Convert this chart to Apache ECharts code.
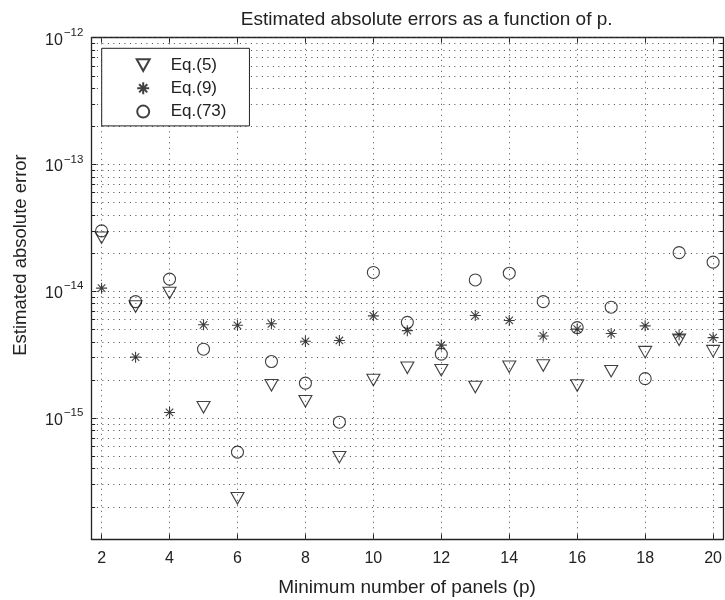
<!DOCTYPE html>
<html>
<head>
<meta charset="utf-8">
<script src="https://cdn.jsdelivr.net/npm/echarts@6/dist/echarts.min.js"></script>
<style>
html,body{margin:0;padding:0;background:#fff;}
#chart{width:725px;height:600px;}
</style>
</head>
<body>
<div id="chart"></div>
<script>
// ---- data ----
var panels = [2,3,4,5,6,7,8,9,10,11,12,13,14,15,16,17,18,19,20];
var eq5  = [2.65e-14,7.6e-15,9.7e-15,1.22e-15,2.34e-16,1.82e-15,1.36e-15,4.93e-16,2.0e-15,2.5e-15,2.39e-15,1.76e-15,2.55e-15,2.6e-15,1.81e-15,2.35e-15,3.32e-15,4.15e-15,3.38e-15];
var eq9  = [1.06e-14,3.03e-15,1.11e-15,5.45e-15,5.4e-15,5.55e-15,4.04e-15,4.1e-15,6.41e-15,4.9e-15,3.77e-15,6.45e-15,5.9e-15,4.45e-15,5.04e-15,4.65e-15,5.35e-15,4.54e-15,4.32e-15];
var eq73 = [3.0e-14,8.3e-15,1.25e-14,3.5e-15,5.4e-16,2.8e-15,1.89e-15,9.3e-16,1.41e-14,5.7e-15,3.2e-15,1.23e-14,1.39e-14,8.3e-15,5.18e-15,7.5e-15,2.05e-15,2.02e-14,1.70e-14];
var seriesNames = ['Eq.(5)','Eq.(9)','Eq.(73)'];
var xTickValues = [2,4,6,8,10,12,14,16,18,20];
var yDecades = [-16,-15,-14,-13,-12];
var yMin = 1.11e-16, yMax = 1e-12;
var xMin = 1.7, xMax = 20.3;

// grid line values (decades and 2..9 multiples)
var yGridValues = [];
yDecades.forEach(function(e){
  for (var k = 1; k <= 9; k++) {
    var v = k * Math.pow(10, e);
    if (v >= yMin * 1.0001 && v <= yMax * 1.0001) yGridValues.push(v);
  }
});

var FONT = '"Liberation Sans", Arial, Helvetica, sans-serif';
var TXT = '#222';
var gridStyle = {color: '#4a4a4a', width: 1, type: [1, 4.5]};
var tickStyle = {color: '#222', width: 1, type: 'solid'};

function pairs(ys){ return panels.map(function(p,i){ return [p, ys[i]]; }); }

var markData = [];
yGridValues.forEach(function(v){
  markData.push([{coord: [xMin, v]}, {coord: [xMax, v]}]);
});
xTickValues.forEach(function(v){ markData.push({xAxis: v}); });

// short minor ticks on left/right axes (non-decade values)
var tickData = [];
var tickLen = 0.11;
yGridValues.forEach(function(v){
  var l = Math.log10(v);
  if (Math.abs(l - Math.round(l)) < 1e-6) return;
  tickData.push([{coord: [xMin, v]}, {coord: [xMin + tickLen, v]}]);
  tickData.push([{coord: [xMax - tickLen, v]}, {coord: [xMax, v]}]);
});

var chart = echarts.init(document.getElementById('chart'), null, {renderer: 'canvas'});
var markerStyle = {color: 'rgba(0,0,0,0)', borderColor: '#111', borderWidth: 1.1};

chart.setOption({
  animation: false,
  backgroundColor: '#fff',
  textStyle: {fontFamily: FONT},
  grid: {left: 91.4, top: 37.7, width: 636.5, height: 501.6, containLabel: false},
  graphic: [
    {type: 'text', x: 426.7, y: 19.5, style: {text: 'Estimated absolute errors as a function of p.', fontSize: 19, fontFamily: FONT, fill: TXT, align: 'center', verticalAlign: 'middle'}},
    {type: 'text', x: 407, y: 588, style: {text: 'Minimum number of panels (p)', fontSize: 19, fontFamily: FONT, fill: TXT, align: 'center', verticalAlign: 'middle'}},
    {type: 'text', x: 21, y: 255, rotation: Math.PI/2, style: {text: 'Estimated absolute error', fontSize: 18.5, fontFamily: FONT, fill: TXT, align: 'center', verticalAlign: 'middle'}}
  ],
  legend: {
    orient: 'vertical',
    left: 101.7, top: 48.3,
    padding: [7.7, 23, 5.3, 34],
    itemWidth: 13, itemHeight: 12, itemGap: 5.3,
    backgroundColor: '#fff', borderColor: '#222', borderWidth: 1,
    textStyle: {fontSize: 17, fontFamily: FONT, color: TXT, lineHeight: 18, padding: [0,0,0,16]},
    data: [
      {name: seriesNames[0], icon: 'path://M0,0L10,0L5,9Z'},
      {name: seriesNames[1]},
      {name: seriesNames[2]}
    ]
  },
  xAxis: [
    {type: 'value', min: xMin, max: xMax, position: 'bottom',
     axisLine: {show: true, lineStyle: {color: '#222', width: 1.3}},
     axisTick: {show: true, inside: true, length: 5, customValues: xTickValues, lineStyle: {color: '#222'}},
     axisLabel: {customValues: xTickValues, fontSize: 16, color: TXT, margin: 11, fontFamily: FONT},
     splitLine: {show: false}},
    {type: 'value', min: xMin, max: xMax, position: 'top',
     axisLine: {show: true, lineStyle: {color: '#222', width: 1.3}},
     axisTick: {show: true, inside: true, length: 5, customValues: xTickValues, lineStyle: {color: '#222'}},
     axisLabel: {show: false}, splitLine: {show: false}}
  ],
  yAxis: [
    {type: 'log', logBase: 10, min: yMin, max: yMax, position: 'left',
     axisLine: {show: true, lineStyle: {color: '#222', width: 1.3}},
     axisTick: {show: true, inside: true, length: 5, lineStyle: {color: '#222'}},
     splitLine: {show: false},
     axisLabel: {
       margin: 8, color: TXT, fontFamily: FONT, showMinLabel: false,
       formatter: function(v){
         var l = Math.log10(v), e = Math.round(l);
         if (Math.abs(l - e) > 1e-6) return '';
         return '{b|10}{s|\u2212' + (-e) + '}';
       },
       rich: {
         b: {fontSize: 16, fontFamily: FONT, color: TXT, padding: [5,0,0,0]},
         s: {fontSize: 11.5, fontFamily: FONT, color: TXT, padding: [0,0,10.4,1]}
       }
     }},
    {type: 'log', logBase: 10, min: yMin, max: yMax, position: 'right',
     axisLine: {show: true, lineStyle: {color: '#222', width: 1.3}},
     axisTick: {show: true, inside: true, length: 5, lineStyle: {color: '#222'}},
     axisLabel: {show: false}, splitLine: {show: false}}
  ],
  series: [
    {name: seriesNames[0], type: 'scatter', data: pairs(eq5),
     symbol: 'triangle', symbolRotate: 180, symbolSize: [13, 11.5],
     itemStyle: markerStyle, z: 3,
     markLine: {silent: true, symbol: ['none','none'], label: {show: false}, lineStyle: gridStyle, data: markData, z: 1, animation: false}},
    {name: seriesNames[1], type: 'scatter', data: pairs(eq9),
     symbol: 'path://M5,0L5,10M0,5L10,5M1.6,1.6L8.4,8.4M1.6,8.4L8.4,1.6', symbolSize: 11,
     itemStyle: markerStyle, z: 3,
     markLine: {silent: true, symbol: ['none','none'], label: {show: false}, lineStyle: tickStyle, data: tickData, z: 2, animation: false}},
    {name: seriesNames[2], type: 'scatter', data: pairs(eq73),
     symbol: 'circle', symbolSize: 12,
     itemStyle: markerStyle, z: 3}
  ]
});
</script>
</body>
</html>
